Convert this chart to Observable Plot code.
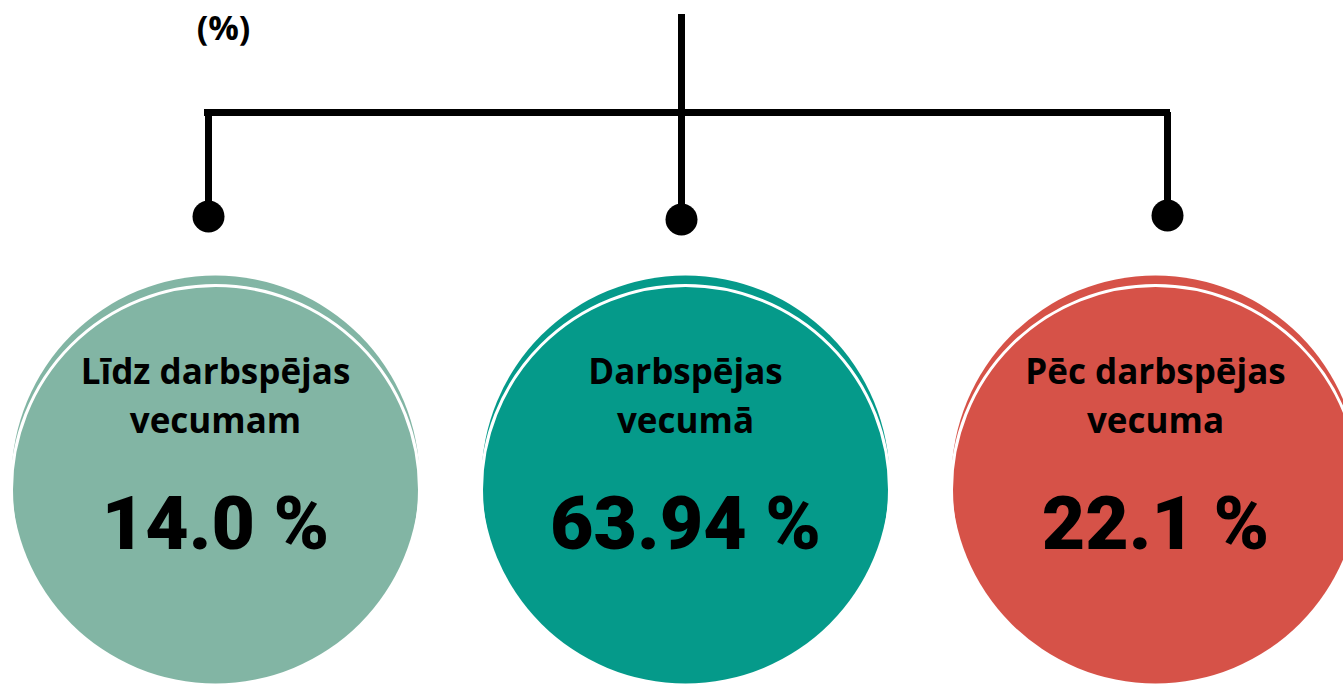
<!DOCTYPE html>
<html><head><meta charset="utf-8">
<script src="https://cdn.jsdelivr.net/npm/d3@7"></script>
<script src="https://cdn.jsdelivr.net/npm/@observablehq/plot@0.6"></script>
<style>html,body{margin:0;padding:0;background:#fff;overflow:hidden}</style>
</head><body><div id="chart"></div>
<script>
// ---- data ----
const categories = ["Līdz darbspējas vecumam", "Darbspējas vecumā", "Pēc darbspējas vecuma"];
const labelLine1 = ["Līdz darbspējas", "Darbspējas", "Pēc darbspējas"];
const labelLine2 = ["vecumam", "vecumā", "vecuma"];
const shares = [14.0, 63.94, 22.1];
const shareLabels = ["14.0 %", "63.94 %", "22.1 %"];
const colors = ["#82B5A4", "#059A8A", "#D65248"];
const titleText = "(%)";

// ---- table built from arrays ----
const rows = categories.map((c, i) => ({
  cat: c, l1: labelLine1[i], l2: labelLine2[i], share: shares[i], label: shareLabels[i], color: colors[i]
}));

// ---- layout (styling, not data) ----
const CY = 479, R = 204;
const treeDx = [-7, -4, 12];
const treeDotY = [216, 219, 215];
const labelFont = "'Open Sans', 'Noto Sans', sans-serif";
const valueFont = "Roboto, 'DejaVu Sans', sans-serif";

const treeMarks = categories.flatMap((c, i) => [
  Plot.ruleX([c], {x: d => d, y1: i === 1 ? 14 : 112, y2: treeDotY[i], dx: treeDx[i], stroke: "#000", strokeWidth: 7}),
  Plot.dot([c], {x: d => d, y: () => treeDotY[i], dx: treeDx[i], r: 16, fill: "#000", stroke: "none"})
]);

const chart = Plot.plot({
  width: 1343, height: 688,
  margin: 0,
  style: {background: "#fff", overflow: "hidden"},
  x: {type: "point", domain: categories, range: [215, 1155], padding: 0, axis: null},
  y: {domain: [0, 688], range: [0, 688], axis: null},
  r: {type: "identity"},
  marks: [
    Plot.text([titleText], {x: () => categories[0], y: () => 29, dx: 8, text: d => d, fontSize: 34, fontWeight: 700, fontFamily: labelFont, fill: "#000", textAnchor: "middle", lineAnchor: "middle"}),
    Plot.ruleY([112], {x1: () => categories[0], x2: () => categories[2], insetLeft: -11, insetRight: -15, stroke: "#000", strokeWidth: 7}),
    ...treeMarks,
    Plot.dot(rows, {x: "cat", y: () => CY, r: () => R, fill: "color", stroke: "none"}),
    Plot.dot(rows, {x: "cat", y: () => CY, dy: 10, r: () => R, fill: "none", stroke: "#fff", strokeWidth: 3}),
    Plot.text(rows, {x: "cat", y: () => 372, text: "l1", fontSize: 35, fontWeight: 700, fontFamily: labelFont, fill: "#000", textAnchor: "middle", lineAnchor: "middle"}),
    Plot.text(rows, {x: "cat", y: () => 421, text: "l2", fontSize: 35, fontWeight: 700, fontFamily: labelFont, fill: "#000", textAnchor: "middle", lineAnchor: "middle"}),
    Plot.text(rows, {x: "cat", y: () => 524, text: "label", fontSize: 75, fontWeight: 900, fontFamily: valueFont, fill: "#000", textAnchor: "middle", lineAnchor: "middle"})
  ]
});
document.getElementById("chart").appendChild(chart);
</script>
</body></html>
